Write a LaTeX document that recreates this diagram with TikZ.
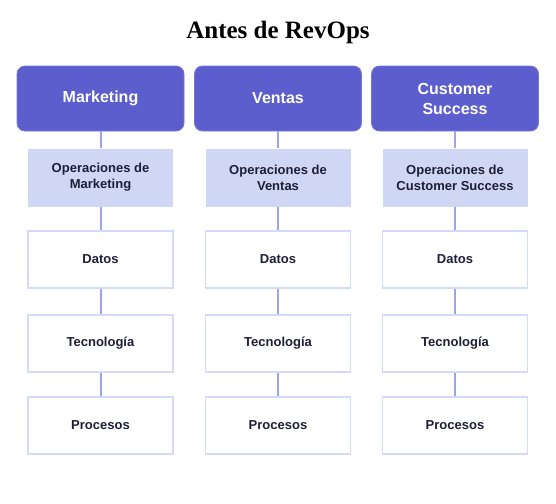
\documentclass[tikz,border=0pt]{standalone}
\usepackage{fontspec}
\setmainfont{Liberation Sans}
\newfontfamily\titlefont{Liberation Serif}
\definecolor{headfill}{RGB}{93,94,206}
\definecolor{opsfill}{RGB}{208,215,245}
\definecolor{boxline}{RGB}{212,218,250}
\definecolor{conn}{RGB}{158,163,238}
\definecolor{txt}{RGB}{30,30,55}
\begin{document}
\begin{tikzpicture}[x=1pt,y=-1pt,
  headbox/.style={draw=headfill!85!white, fill=headfill, rounded corners=8pt, minimum width=167pt, minimum height=65pt, text=white, font=\fontsize{16}{20}\selectfont\bfseries, align=center, inner sep=0pt, line width=0.8pt},
  opsbox/.style={fill=opsfill, minimum width=145pt, minimum height=58pt, text=txt, font=\fontsize{13}{16}\selectfont\bfseries, align=center, inner sep=0pt},
  plainbox/.style={draw=boxline, fill=white, line width=1.5pt, minimum width=145pt, minimum height=57pt, text=txt, font=\fontsize{13}{16}\selectfont\bfseries, align=center, inner sep=0pt},
  link/.style={draw=conn, line width=2pt}]
\useasboundingbox (0,0) rectangle (556,503);
\node[font=\titlefont\fontsize{25}{28}\selectfont\bfseries, text=black] (title) at (278,32) {Antes de RevOps};
% column 1
\node[headbox] (h1) at (100.5,98.5) {Marketing};
\node[opsbox] (o1) at (100.5,177.5) {Operaciones de\\Marketing};
\node[plainbox] (d1) at (100.5,259.5) {Datos};
\node[plainbox] (t1) at (100.5,343.5) {Tecnología};
\node[plainbox] (p1) at (100.5,425.5) {Procesos};
% column 2
\node[headbox] (h2) at (278,98.5) {Ventas};
\node[opsbox] (o2) at (278,177.5) {Operaciones de\\Ventas};
\node[plainbox] (d2) at (278,259.5) {Datos};
\node[plainbox] (t2) at (278,343.5) {Tecnología};
\node[plainbox] (p2) at (278,425.5) {Procesos};
% column 3
\node[headbox] (h3) at (455,98.5) {Customer\\Success};
\node[opsbox] (o3) at (455,177.5) {Operaciones de\\Customer Success};
\node[plainbox] (d3) at (455,259.5) {Datos};
\node[plainbox] (t3) at (455,343.5) {Tecnología};
\node[plainbox] (p3) at (455,425.5) {Procesos};
\foreach \c in {1,2,3}{
  \draw[link] (h\c) -- (o\c);
  \draw[link] (o\c) -- (d\c);
  \draw[link] (d\c) -- (t\c);
  \draw[link] (t\c) -- (p\c);
}
\end{tikzpicture}
\end{document}
